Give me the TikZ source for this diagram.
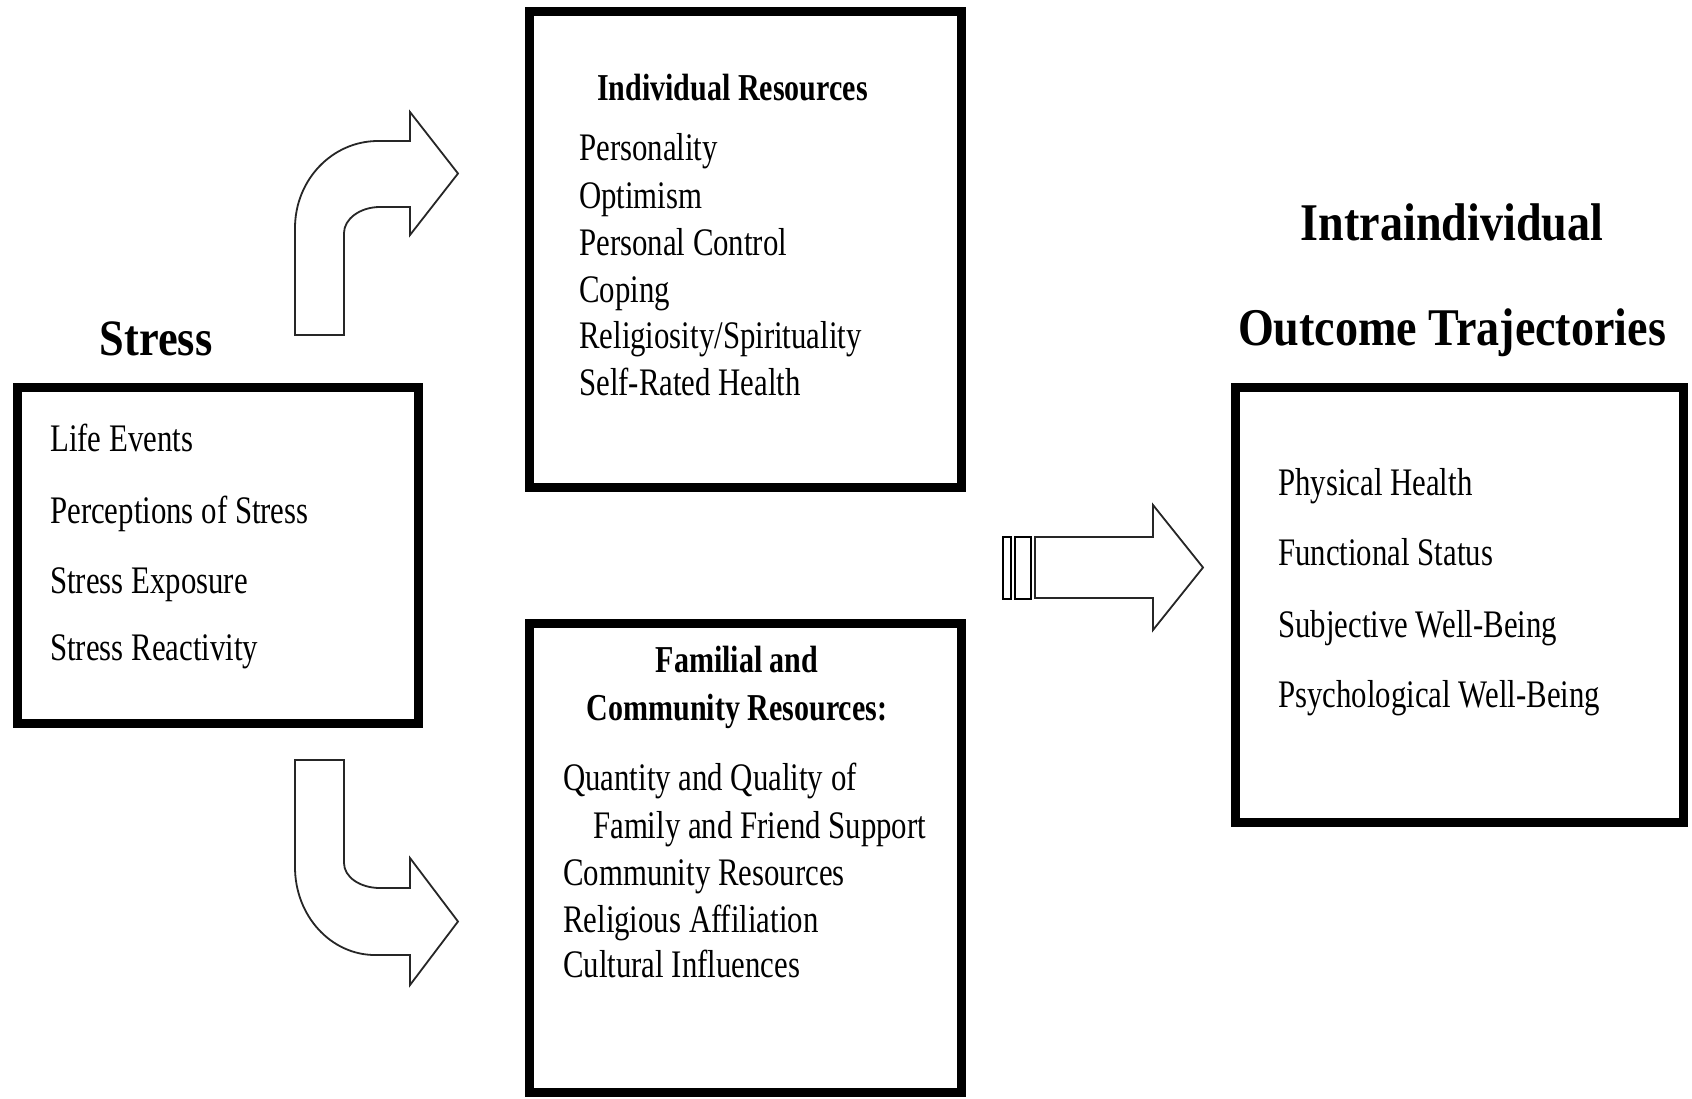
\documentclass[tikz,border=0pt]{standalone}
\usepackage{fontspec}
\setmainfont{Liberation Serif}[FakeStretch=0.79]
\newfontfamily\headfont{Liberation Serif}[FakeStretch=0.87]
\begin{document}
\begin{tikzpicture}[x=1pt,y=-1pt,
  frame/.style={draw=black, line width=9pt, inner sep=0pt},
  item/.style={anchor=base west, inner sep=0pt, font=\fontsize{39}{47}\selectfont},
  head/.style={inner sep=0pt, font=\fontsize{38}{46}\selectfont\bfseries},
  title/.style={anchor=base, inner sep=0pt, font=\headfont\fontsize{53}{60}\selectfont\bfseries},
  blockarrow/.style={draw=black!85, line width=1.8pt, line join=miter, fill=white},
  bar/.style={draw=black, line width=2.2pt, fill=white}]
\useasboundingbox (0,0) rectangle (1692,1098);

% framed boxes
\node[frame, minimum width=401pt, minimum height=336pt] (stressbox) at (218,555.5) {};
\node[frame, minimum width=432pt, minimum height=476pt] (indbox) at (745.5,249.5) {};
\node[frame, minimum width=432pt, minimum height=469pt] (fambox) at (745.5,858) {};
\node[frame, minimum width=448pt, minimum height=435pt] (outbox) at (1459.5,605) {};

% titles
\node[title, font=\headfont\fontsize{51}{60}\selectfont\bfseries] (stresstitle) at (156,355) {Stress};
\node[title] (outtitle1) at (1452,240) {Intraindividual};
\node[title] (outtitle2) at (1452,345) {Outcome Trajectories};

% stress items
\node[item] (s1) at (50,451) {Life Events};
\node[item] (s2) at (50,523) {Perceptions of Stress};
\node[item] (s3) at (50,593) {Stress Exposure};
\node[item] (s4) at (50,660) {Stress Reactivity};

% individual resources
\node[head, anchor=base west] (indhead) at (597,100) {Individual Resources};
\node[item] (i1) at (579,160) {Personality};
\node[item] (i2) at (579,208) {Optimism};
\node[item] (i3) at (579,255) {Personal Control};
\node[item] (i4) at (579,302) {Coping};
\node[item] (i5) at (579,348) {Religiosity/Spirituality};
\node[item] (i6) at (579,395) {Self-Rated Health};

% familial and community resources
\node[head, anchor=base] (famhead1) at (737,672) {Familial and};
\node[head, anchor=base] (famhead2) at (737,720) {Community Resources:};
\node[item] (f1) at (563,790) {Quantity and Quality of};
\node[item] (f2) at (593,838) {Family and Friend Support};
\node[item] (f3) at (563,885) {Community Resources};
\node[item] (f4) at (563,932) {Religious Affiliation};
\node[item] (f5) at (563,977) {Cultural Influences};

% outcomes
\node[item] (o1) at (1278,495) {Physical Health};
\node[item] (o2) at (1278,565) {Functional Status};
\node[item] (o3) at (1278,637) {Subjective Well-Being};
\node[item] (o4) at (1278,707) {Psychological Well-Being};

% bent arrow up to individual resources
\draw[blockarrow] (295,335) -- (295,228)
  .. controls (295,180) and (332,141) .. (378,141)
  -- (410,141) -- (410,112) -- (458,173.5) -- (410,235) -- (410,207) -- (380,207)
  .. controls (360,207) and (344,219) .. (344,233)
  -- (344,335) -- cycle;

% bent arrow down to familial and community resources
\draw[blockarrow] (295,760) -- (344,760) -- (344,863)
  .. controls (344,877) and (360,888) .. (380,888)
  -- (410,888) -- (410,858) -- (458,921.5) -- (410,985) -- (410,955) -- (375,955)
  .. controls (331,955) and (295,916) .. (295,867)
  -- cycle;

% striped arrow to outcomes
\draw[bar] (1003,537) rectangle (1011,599);
\draw[bar] (1015,537) rectangle (1031,599);
\draw[blockarrow] (1035,537) -- (1153,537) -- (1153,505) -- (1203,567.5)
  -- (1153,630) -- (1153,598) -- (1035,598) -- cycle;
\end{tikzpicture}
\end{document}
